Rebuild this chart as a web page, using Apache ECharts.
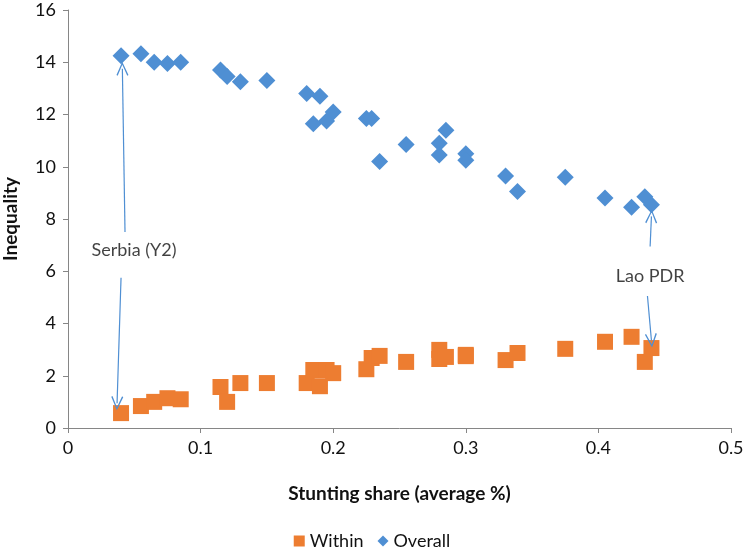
<!DOCTYPE html>
<html><head><meta charset="utf-8">
<script src="https://cdn.jsdelivr.net/npm/echarts@6/dist/echarts.min.js"></script>
<style>html,body{margin:0;padding:0;background:#fff}#c{width:744px;height:553px}</style>
</head><body><div id="c"></div>
<script>
const withinX = [0.040,0.055,0.065,0.075,0.085,0.115,0.120,0.130,0.150,0.180,0.185,0.190,0.195,0.200,0.225,0.229,0.235,0.255,0.280,0.280,0.285,0.300,0.300,0.330,0.339,0.375,0.405,0.425,0.435,0.440];
const withinY = [0.57,0.84,1.00,1.14,1.10,1.57,1.00,1.72,1.72,1.72,2.22,1.60,2.22,2.10,2.25,2.68,2.76,2.53,2.99,2.64,2.72,2.80,2.75,2.60,2.87,3.03,3.30,3.49,2.53,3.06];
const overallX = [0.040,0.055,0.065,0.075,0.085,0.115,0.120,0.130,0.150,0.180,0.185,0.190,0.195,0.200,0.225,0.229,0.235,0.255,0.280,0.280,0.285,0.300,0.300,0.330,0.339,0.375,0.405,0.425,0.435,0.440];
const overallY = [14.25,14.33,14.00,13.95,14.00,13.70,13.45,13.25,13.30,12.80,11.65,12.70,11.75,12.10,11.85,11.85,10.20,10.85,10.90,10.45,11.40,10.50,10.25,9.65,9.05,9.60,8.80,8.45,8.85,8.55];
const xTicks = [0,0.1,0.2,0.3,0.4,0.5];
const yTicks = [0,2,4,6,8,10,12,14,16];
const noteNames = ['Serbia (Y2)','Lao PDR'];
const noteX = [0.0498,0.439];
const noteY = [6.82,5.80];

const blue = '#4f8fd3', orange = '#ed7d31', ink = '#111';
const chev = 'path://M0,0 L6,10 L4.8,10.6 L0,2.2 L-4.8,10.6 L-6,10 Z';
const font = 'Lato';

const chart = echarts.init(document.getElementById('c'));
chart.setOption({
  animation:false,
  textStyle:{fontFamily:font},
  grid:{left:68,right:13,top:10,bottom:125,containLabel:false,outerBoundsMode:'none'},
  xAxis:{type:'value',min:xTicks[0],max:xTicks[xTicks.length-1],interval:0.1,
    name:'Stunting share (average %)',nameLocation:'middle',nameGap:56,
    nameTextStyle:{fontFamily:font,fontWeight:'bold',fontSize:19,color:ink},
    axisLine:{lineStyle:{color:'#868686'}},axisTick:{show:true,length:5,lineStyle:{color:'#868686'}},
    axisLabel:{fontFamily:font,fontSize:18,color:ink,margin:11},splitLine:{show:false}},
  yAxis:{type:'value',min:yTicks[0],max:yTicks[yTicks.length-1],interval:2,
    name:'Inequality',nameLocation:'middle',nameGap:48,
    nameTextStyle:{fontFamily:font,fontWeight:'bold',fontSize:19,color:ink},
    axisLine:{show:true,lineStyle:{color:'#868686'}},axisTick:{show:true,length:5,lineStyle:{color:'#868686'}},
    axisLabel:{fontFamily:font,fontSize:18,color:ink,margin:12},splitLine:{show:false}},
  legend:{top:527,left:'center',itemWidth:11,itemHeight:11,itemGap:14,
    textStyle:{fontFamily:font,fontSize:18,color:ink},
    data:[{name:'Within',icon:'rect'},{name:'Overall',icon:'diamond'}]},
  series:[
    {name:'Overall',type:'scatter',symbol:'diamond',symbolSize:17,itemStyle:{color:blue,opacity:1},
      data:overallX.map((x,i)=>[x,overallY[i]]),
      markLine:{silent:true,symbol:['none',chev],symbolSize:[12,14],
        lineStyle:{color:blue,width:1.2,type:'solid'},label:{show:false},
        data:[
          [{coord:[0.043,7.5]},{coord:[0.041,13.75]}],
          [{coord:[0.040,5.75]},{coord:[0.037,0.95]}],
          [{coord:[0.439,6.95]},{coord:[0.440,8.1]}],
          [{coord:[0.437,5.05]},{coord:[0.440,3.35]}]
        ]}
    },
    {name:'Within',type:'scatter',symbol:'rect',symbolSize:16,itemStyle:{color:orange,opacity:1},
      data:withinX.map((x,i)=>[x,withinY[i]])},
    {name:'notes',type:'scatter',symbolSize:0,silent:true,z:5,
      data:noteX.map((x,i)=>({value:[x,noteY[i]],name:noteNames[i]})),
      label:{show:true,position:'inside',fontFamily:font,fontSize:18,color:ink,
        textBorderWidth:0,textBorderColor:'transparent',formatter:p=>p.name}}
  ]
});
</script></body></html>
